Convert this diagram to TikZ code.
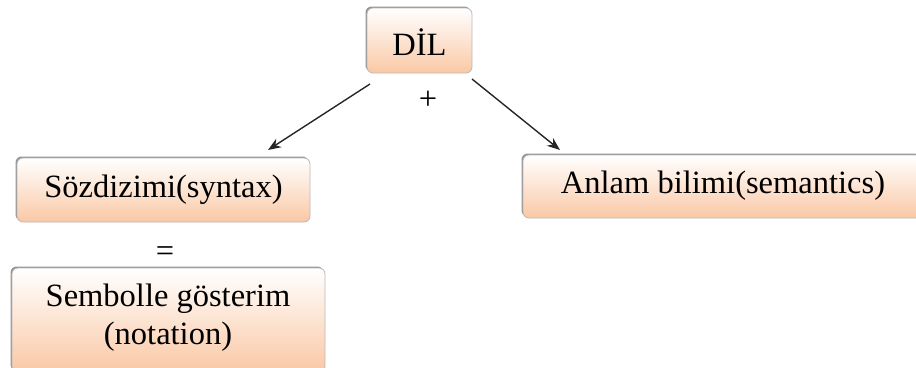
\documentclass[tikz,border=0pt]{standalone}
\usepackage{fontspec}
\setmainfont{Liberation Serif}
\usetikzlibrary{shadows,arrows.meta}
\definecolor{peach}{RGB}{250,200,165}
\definecolor{edgegray}{RGB}{185,185,185}
\tikzset{
  box/.style={rounded corners=6pt, draw=edgegray, line width=0.8pt, top color=white, bottom color=peach,
    drop shadow={shadow xshift=-1.5pt, shadow yshift=1.5pt, fill=gray!80!black, opacity=0.7}},
  lbl/.style={font=\fontsize{32.5}{38}\selectfont, text=black, align=center},
  arr/.style={-{Stealth[length=13pt,width=10pt]}, line width=1.4pt, draw=black!85}
}
\begin{document}
\begin{tikzpicture}[x=1pt,y=-1pt]
\useasboundingbox (0,0) rectangle (916,367);
\path[box] (367,8) rectangle (472,73);
\node[lbl] (dil) at (419.5,42) {DİL};
\path[box] (17,158) rectangle (310,222);
\node[lbl] (syn) at (163.5,190) {Sözdizimi(syntax)};
\path[box] (523,155) rectangle (922,218);
\node[lbl] (sem) at (723,186) {Anlam bilimi(semantics)};
\path[box] (12,268) rectangle (325,372);
\node[lbl] (not) at (168,318) {Sembolle gösterim\\(notation)};
\node[lbl] (plus) at (428,100) {+};
\node[lbl] (eq) at (165,254) {=};
\coordinate (a1s) at (370,84);
\coordinate (a1e) at (268,150);
\coordinate (a2s) at (472,79);
\coordinate (a2e) at (560,150);
\draw[arr] (a1s) -- (a1e);
\draw[arr] (a2s) -- (a2e);
\end{tikzpicture}
\end{document}
